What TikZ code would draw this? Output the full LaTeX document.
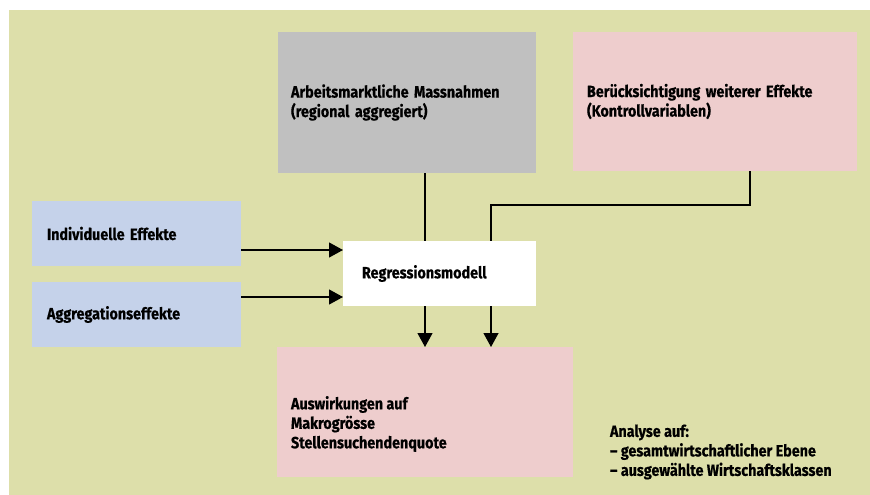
\documentclass[tikz,border=0pt]{standalone}
\usepackage{fontspec}
\setmainfont{Fira Sans}[FakeStretch=0.88, BoldFeatures={FakeBold=0.5}]
\usetikzlibrary{arrows.meta,calc}
\definecolor{bgc}{RGB}{221,223,170}
\definecolor{grayc}{RGB}{192,192,192}
\definecolor{pinkc}{RGB}{238,205,205}
\definecolor{bluec}{RGB}{197,210,234}
\tikzset{
  box/.style={rectangle, draw=none, inner ysep=0pt, outer sep=0pt, align=left},
  lbl/.style={inner sep=0pt, outer sep=0pt, align=left, anchor=west},
  arr/.style={line width=1.2pt, -{Triangle[length=14pt,width=15pt]}},
  ln/.style={line width=1.2pt}
}
\begin{document}
\begin{tikzpicture}[x=1pt,y=-1pt,font=\fontsize{16.3}{19.5}\selectfont\bfseries]
\useasboundingbox (0,0) rectangle (870,495);
\fill[bgc] (9,10) rectangle (870,495);
% boxes
\node[box, fill=grayc, inner xsep=13pt, text width=232pt, minimum height=141pt] (gray) at (407,102.5)
  {Arbeitsmarktliche Massnahmen\\(regional aggregiert)};
\node[box, fill=pinkc, inner xsep=14pt, text width=256pt, minimum height=139pt] (ctrl) at (715,101.5)
  {Berücksichtigung weiterer Effekte\\(Kontrollvariablen)};
\node[box, fill=bluec, inner xsep=15pt, text width=179pt, minimum height=65pt] (ind) at (136.5,233.5)
  {Individuelle Effekte};
\node[box, fill=bluec, inner xsep=15pt, text width=179pt, minimum height=65pt] (agg) at (136.5,314.5)
  {Aggregationseffekte};
\node[box, fill=pinkc, minimum width=296pt, minimum height=130pt] (out) at (425,412) {};
\node[lbl] (outtxt) at ([xshift=14pt,yshift=-12pt]out.west)
  {Auswirkungen auf\\Makrogrösse\\Stellensuchendenquote};
% vertical connectors (pass behind the regression box)
\draw[arr] (gray.south -| out.north) -- (out.north);
\coordinate (k1) at ([xshift=35pt]ctrl.south);
\coordinate (k2) at ([xshift=66pt]out.north);
\draw[arr] (k1) -- ++(0,34) -| (k2);
% regression box on top
\node[box, fill=white, inner xsep=19pt, text width=155pt, minimum height=65pt] (reg) at (439.5,273.5)
  {Regressionsmodell};
\coordinate (r1) at ([yshift=23.5pt]reg.west);
\coordinate (r2) at ([yshift=-23.5pt]reg.west);
\draw[arr] (ind.east |- r1) -- (r1);
\draw[arr] (agg.east |- r2) -- (r2);
% note
\node[lbl] (note) at (610,452)
  {Analyse auf:\\– gesamtwirtschaftlicher Ebene\\– ausgewählte Wirtschaftsklassen};
\end{tikzpicture}
\end{document}
